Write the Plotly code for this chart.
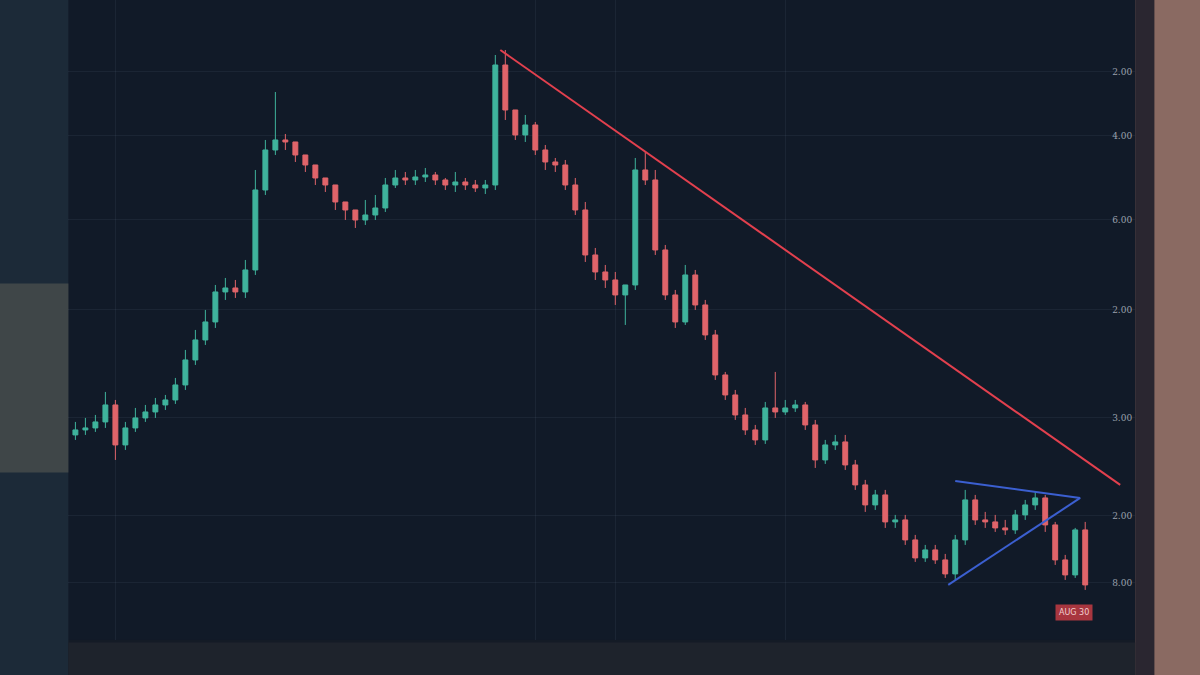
import plotly.graph_objects as go

# candle index -> one candle every ~10px on the screen
opens = [205, 210, 212, 218, 235, 195, 212, 222, 228, 235,
         240, 255, 280, 300, 318, 348, 352, 348, 370, 450,
         490, 500, 498, 485, 475, 462, 455, 438, 430, 420,
         425, 432, 455, 462, 460, 463, 465, 460, 455, 458,
         455, 452, 455, 575, 530, 505, 515, 490, 478, 475,
         455, 430, 385, 368, 360, 345, 355, 470, 460, 390,
         345, 318, 365, 335, 305, 265, 245, 225, 210, 200,
         232, 228, 232, 235, 215, 180, 195, 198, 175, 155,
         135, 145, 118, 120, 100, 82, 90, 80, 66, 100,
         140, 120, 118, 112, 110, 125, 135, 142, 115, 80,
         65, 110]
closes = [210, 212, 218, 235, 195, 212, 222, 228, 235, 240,
          255, 280, 300, 318, 348, 352, 348, 370, 450, 490,
          500, 498, 485, 475, 462, 455, 438, 430, 420, 425,
          432, 455, 462, 460, 463, 465, 460, 455, 458, 455,
          452, 455, 575, 530, 505, 515, 490, 478, 475, 455,
          430, 385, 368, 360, 345, 355, 470, 460, 390, 345,
          318, 365, 335, 305, 265, 245, 225, 210, 200, 232,
          228, 232, 235, 215, 180, 195, 198, 175, 155, 135,
          145, 118, 120, 100, 82, 90, 80, 66, 100, 140,
          120, 118, 112, 110, 125, 135, 142, 115, 80, 65,
          110, 55]
highs = [218, 222, 225, 248, 240, 218, 232, 235, 242, 245,
         262, 290, 310, 330, 355, 362, 360, 380, 470, 500,
         548, 506, 492, 482, 470, 462, 445, 438, 428, 440,
         445, 462, 470, 468, 470, 472, 468, 462, 468, 462,
         460, 460, 585, 590, 520, 525, 518, 495, 482, 480,
         462, 438, 392, 375, 368, 352, 482, 488, 470, 395,
         350, 375, 370, 340, 310, 268, 250, 232, 215, 238,
         268, 240, 240, 238, 220, 200, 205, 205, 180, 160,
         150, 150, 125, 125, 105, 95, 95, 86, 105, 150,
         145, 128, 125, 120, 130, 140, 148, 145, 118, 85,
         112, 118]
lows = [200, 205, 208, 212, 180, 190, 208, 218, 222, 230,
        236, 250, 275, 295, 312, 340, 342, 342, 365, 445,
        485, 490, 478, 468, 455, 448, 430, 420, 412, 415,
        420, 428, 452, 455, 455, 458, 455, 450, 448, 450,
        448, 446, 450, 520, 500, 498, 485, 470, 468, 450,
        425, 378, 360, 352, 335, 315, 350, 455, 385, 340,
        312, 315, 330, 300, 260, 240, 220, 205, 195, 196,
        222, 225, 228, 210, 172, 176, 190, 170, 150, 128,
        130, 112, 112, 95, 78, 78, 76, 62, 60, 95,
        115, 112, 108, 105, 106, 120, 130, 108, 75, 60,
        62, 50]
candle_x = list(range(len(opens)))

tick_vals = [568, 504, 420, 330, 222, 124, 57]
tick_text = ["2.00", "4.00", "6.00", "2.00", "3.00", "2.00", "8.00"]

# trend lines (candle index, price)
resist_x = [42.5, 104.5]
resist_y = [590, 155]
tri_top_x = [88, 100.5]
tri_top_y = [159, 142]
tri_bot_x = [87.3, 100.5]
tri_bot_y = [55, 142]

fig = go.Figure()

fig.add_trace(go.Candlestick(
    x=candle_x, open=opens, high=highs, low=lows, close=closes,
    increasing=dict(line=dict(color="#3fb39c", width=1), fillcolor="#3fb39c"),
    decreasing=dict(line=dict(color="#e0646a", width=1), fillcolor="#e0646a"),
    whiskerwidth=0, showlegend=False
))

fig.add_trace(go.Scatter(x=resist_x, y=resist_y, mode="lines",
                         line=dict(color="#e2404e", width=2), showlegend=False))
fig.add_trace(go.Scatter(x=tri_top_x, y=tri_top_y, mode="lines",
                         line=dict(color="#3b5fd0", width=2), showlegend=False))
fig.add_trace(go.Scatter(x=tri_bot_x, y=tri_bot_y, mode="lines",
                         line=dict(color="#3b5fd0", width=2), showlegend=False))

# screen surroundings (blurred photo edges)
shapes = [
    dict(type="rect", xref="paper", yref="paper", x0=-0.06, x1=0.057, y0=-0.06, y1=1.01,
         fillcolor="#1c2a38", line_width=0, layer="below"),
    dict(type="rect", xref="paper", yref="paper", x0=-0.06, x1=0.057, y0=0.30, y1=0.58,
         fillcolor="#4e5350", line_width=0, layer="below", opacity=0.7),
    dict(type="rect", xref="paper", yref="paper", x0=0.946, x1=1.01, y0=-0.06, y1=1.01,
         fillcolor="#8a6a62", line_width=0, layer="below"),
    dict(type="rect", xref="paper", yref="paper", x0=0.946, x1=0.962, y0=-0.06, y1=1.01,
         fillcolor="#2a2630", line_width=0, layer="below"),
    dict(type="rect", xref="paper", yref="paper", x0=0.057, x1=0.946, y0=-0.06, y1=0.048,
         fillcolor="#1e232c", line_width=0, layer="below"),
]

fig.update_layout(
    width=1200, height=675,
    margin=dict(l=0, r=0, t=0, b=0),
    paper_bgcolor="#141b26",
    plot_bgcolor="#111a28",
    shapes=shapes,
    xaxis=dict(domain=[0.057, 0.946], range=[-0.7, 106], rangeslider=dict(visible=False),
               showticklabels=False, showgrid=True, gridcolor="rgba(120,140,170,0.10)",
               tickvals=[4, 46, 54, 71], zeroline=False),
    yaxis=dict(domain=[0.052, 1], range=[0, 640], side="right",
               tickvals=tick_vals, ticktext=tick_text, ticklabelposition="inside",
               tickfont=dict(family="DejaVu Serif", size=9, color="#9aa0ac"),
               showgrid=True, gridcolor="rgba(120,140,170,0.10)", zeroline=False),
    annotations=[dict(x=1093 / 1200, y=1 - 621 / 675, xref="paper", yref="paper",
                      text="AUG 30", showarrow=False,
                      font=dict(size=8, color="#f2d0d0", family="DejaVu Sans"),
                      bgcolor="#a8363f", borderpad=3)],
)

fig.write_html("out.html", config={"displayModeBar": False},
               post_script="document.body.style.margin='0';")
